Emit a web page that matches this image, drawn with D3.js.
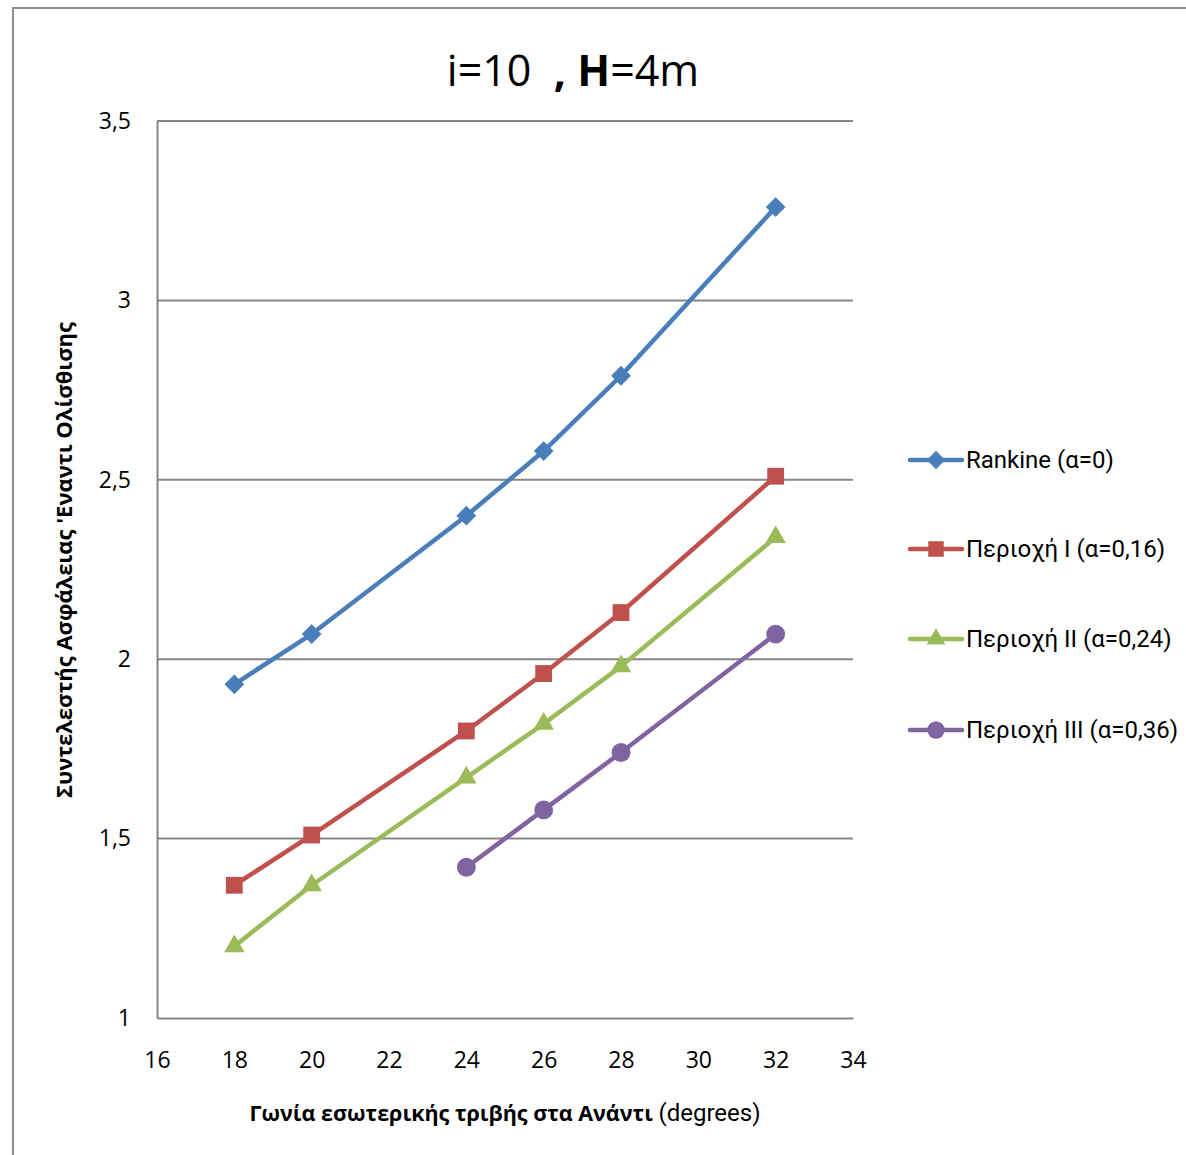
<!DOCTYPE html>
<html>
<head>
<meta charset="utf-8">
<script src="https://cdn.jsdelivr.net/npm/d3@7"></script>
<style>
  html, body { margin: 0; padding: 0; background: #fff; }
  svg { display: block; }
</style>
</head>
<body>
<svg id="chart" width="1186" height="1155"></svg>
<script>
// Friction angle (degrees) on the x axis
const angles = [18, 20, 24, 26, 28, 32];
const anglesIII = [24, 26, 28, 32];

// Safety factor against sliding for each case
const rankine = [1.93, 2.07, 2.40, 2.58, 2.79, 3.26];
const regionI = [1.37, 1.51, 1.80, 1.96, 2.13, 2.51];
const regionII = [1.20, 1.37, 1.67, 1.82, 1.98, 2.34];
const regionIII = [1.42, 1.58, 1.74, 2.07];

const seriesNames = ["Rankine (α=0)", "Περιοχή I (α=0,16)", "Περιοχή II (α=0,24)", "Περιοχή III (α=0,36)"];
const xTicks = [16, 18, 20, 22, 24, 26, 28, 30, 32, 34];
const yTicks = [1, 1.5, 2, 2.5, 3, 3.5];

const series = [
  { name: seriesNames[0], xs: angles, ys: rankine, color: "#4A7EBB", symbol: d3.symbolDiamond2, size: 250 },
  { name: seriesNames[1], xs: angles, ys: regionI, color: "#C0504D", symbol: d3.symbolSquare2, size: 360 },
  { name: seriesNames[2], xs: angles, ys: regionII, color: "#9BBB59", symbol: d3.symbolTriangle2, size: 300 },
  { name: seriesNames[3], xs: anglesIII, ys: regionIII, color: "#8064A2", symbol: d3.symbolCircle, size: 280 }
];

const svg = d3.select("#chart");
const font = "'Open Sans', 'DejaVu Sans', sans-serif";

// outer chart frame
svg.append("rect")
  .attr("x", 13).attr("y", 8).attr("width", 1200).attr("height", 1200)
  .attr("fill", "none").attr("stroke", "#8c8c8c").attr("stroke-width", 2);

const x = d3.scaleLinear().domain([16, 34]).range([157, 853]);
const y = d3.scaleLinear().domain([1, 3.5]).range([1018, 121]);

// horizontal gridlines
svg.append("g").selectAll("line")
  .data(yTicks.filter(v => v > 1))
  .join("line")
  .attr("x1", x(16)).attr("x2", x(34))
  .attr("y1", d => y(d)).attr("y2", d => y(d))
  .attr("stroke", "#868686").attr("stroke-width", 2);

// axes
const fmt = d => String(d).replace(".", ",");
const yAxis = svg.append("g")
  .attr("transform", `translate(${x(16)},0)`)
  .call(d3.axisLeft(y).tickValues(yTicks).tickFormat(fmt).tickSize(0).tickPadding(26));
const xAxis = svg.append("g")
  .attr("transform", `translate(0,${y(1)})`)
  .call(d3.axisBottom(x).tickValues(xTicks).tickFormat(fmt).tickSize(0).tickPadding(34));
[yAxis, xAxis].forEach(g => {
  g.select(".domain").attr("stroke", "#868686").attr("stroke-width", 2);
  g.selectAll("text").attr("font-family", font).attr("font-size", 23).attr("fill", "#000");
});
xAxis.selectAll("text").attr("dy", "0.71em");

// lines and markers
const line = d3.line().x(d => x(d[0])).y(d => y(d[1]));
series.forEach(s => {
  const pts = s.xs.map((v, i) => [v, s.ys[i]]);
  svg.append("path")
    .attr("d", line(pts))
    .attr("fill", "none").attr("stroke", s.color)
    .attr("stroke-width", 4.5).attr("stroke-linejoin", "round").attr("stroke-linecap", "round");
  svg.append("g").selectAll("path")
    .data(pts)
    .join("path")
    .attr("transform", d => `translate(${x(d[0])},${y(d[1])})`)
    .attr("d", d3.symbol(s.symbol, s.size))
    .attr("fill", s.color);
});

// legend
const legendY = [460, 549, 639, 730];
series.forEach((s, i) => {
  const g = svg.append("g").attr("transform", `translate(0,${legendY[i]})`);
  g.append("line").attr("x1", 910).attr("x2", 962).attr("y1", 0).attr("y2", 0)
    .attr("stroke", s.color).attr("stroke-width", 4.5).attr("stroke-linecap", "round");
  g.append("path").attr("transform", "translate(936,0)")
    .attr("d", d3.symbol(s.symbol, s.size * 0.85)).attr("fill", s.color);
  g.append("text").attr("x", 966).attr("y", 0).attr("dy", "0.35em")
    .attr("font-family", "Roboto, 'Open Sans', sans-serif").attr("font-size", 24)
    .attr("fill", "#000").text(s.name);
});

// title
const title = svg.append("text")
  .attr("x", 573).attr("y", 86).attr("text-anchor", "middle")
  .attr("xml:space", "preserve").style("white-space", "pre")
  .attr("font-family", font).attr("font-size", 43).attr("fill", "#000");
title.append("tspan").text("i=10  ");
title.append("tspan").attr("font-weight", "bold").text(", H");
title.append("tspan").text("=4m");

// axis titles
const xt = svg.append("text")
  .attr("x", 505).attr("y", 1121).attr("text-anchor", "middle")
  .attr("font-family", font).attr("font-size", 21.5).attr("fill", "#000");
xt.append("tspan").attr("font-weight", "bold").text("Γωνία εσωτερικής τριβής στα Ανάντι ");
xt.append("tspan").attr("font-family", "Roboto, sans-serif").attr("font-size", 24).text("(degrees)");

svg.append("text")
  .attr("transform", "translate(72,560) rotate(-90)")
  .attr("text-anchor", "middle")
  .attr("font-family", font).attr("font-size", 22).attr("font-weight", "bold")
  .attr("fill", "#000").text("Συντελεστής Ασφάλειας 'Εναντι Ολίσθισης");
</script>
</body>
</html>
